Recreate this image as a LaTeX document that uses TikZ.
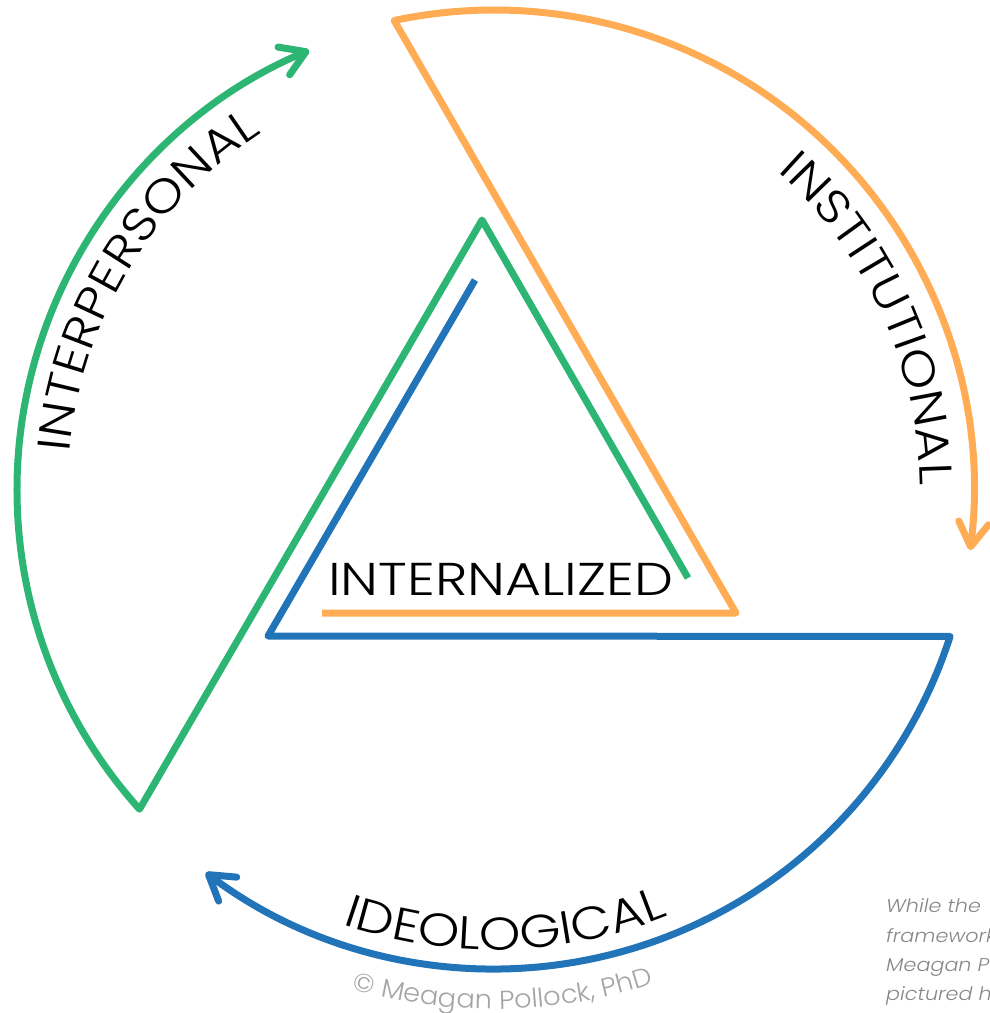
\documentclass[tikz,border=0pt]{standalone}
\usepackage{fontspec}
\setmainfont{Poppins}[UprightFont=* Light, ItalicFont=* Light Italic]
\usetikzlibrary{arrows.meta,decorations.text,calc}
\definecolor{cgreen}{RGB}{45,181,115}
\definecolor{corange}{RGB}{255,172,85}
\definecolor{cblue}{RGB}{34,116,184}
\definecolor{cgray}{RGB}{165,165,165}
\definecolor{cnote}{RGB}{135,135,135}
\newcommand\lblfont{\fontsize{46}{50}\selectfont\addfontfeature{FakeStretch=1.15}}
\newcommand\midfont{\fontsize{46}{50}\selectfont\addfontfeature{FakeStretch=1.2}}
\newcommand\cpfont{\fontsize{26}{30}\selectfont\addfontfeature{FakeStretch=1.05}\color{cgray}}
\newcommand\notefont{\fontsize{18.5}{22}\selectfont\itshape\addfontfeature{FakeStretch=1.12}}
\begin{document}
\begin{tikzpicture}[x=1pt,y=1pt,
  band/.style={line width=7pt, line join=round, line cap=butt},
  tipx/.style={-{Straight Barb[length=24pt,width=30pt,round]}},
  arclabel/.style={decorate, decoration={text along path, text align=center, text={|\lblfont|#1}}},
  cplabel/.style={decorate, decoration={text along path, text align=center, text={|\cpfont|#1}}},
  note/.style={anchor=base west, inner sep=0pt, font=\notefont, text=cnote}]
\useasboundingbox (0,0) rectangle (989,-1013);
\coordinate (C) at (494,-490);
% green
\coordinate (g1) at ($(C)+(222:477)$);
\coordinate (g2) at (482,-220);
\coordinate (g3) at (688,-578);
\draw[band,cgreen,tipx] (g3) -- (g2) -- (g1) arc[start angle=222, end angle=112.8, radius=477];
% orange
\coordinate (o1) at (322,-613);
\coordinate (o2) at (736,-613);
\coordinate (o3) at ($(C)+(102:480)$);
\draw[band,corange,tipx] (o1) -- (o2) -- (o3) arc[start angle=102, end angle=-7.2, radius=480];
% blue
\coordinate (b1) at (475,-280);
\coordinate (b2) at (268,-636);
\coordinate (b3) at ($(C)+(-17.8:479)$);
\draw[band,cblue,tipx] (b1) -- (b2) -- (b3) arc[start angle=-17.8, end angle=-127, radius=479];
% labels
\node[anchor=base west, inner sep=0pt, font=\midfont] (internal) at (328,-595) {INTERNALIZED};
\path[arclabel=INTERPERSONAL] ($(C)+(190:426)$) arc[start angle=190, end angle=108, radius=426];
\path[arclabel=INSTITUTIONAL] ($(C)+(65:426)$) arc[start angle=65, end angle=-16, radius=426];
\path[arclabel=IDEOLOGICAL] ($(C)+(231:460)$) arc[start angle=231, end angle=312, radius=460];
\path[cplabel={© Meagan Pollock, PhD}] ($(C)+(236:519)$) arc[start angle=236, end angle=306, radius=519];
% note (cut by the right edge)
\begin{scope}
\clip (0,0) rectangle (989,-1013);
\node[note] (n1) at (886,-912) {While the};
\node[note] (n2) at (886,-942) {framework};
\node[note] (n3) at (886,-971) {Meagan Pollock};
\node[note] (n4) at (886,-1000) {pictured here};
\end{scope}
\end{tikzpicture}
\end{document}
